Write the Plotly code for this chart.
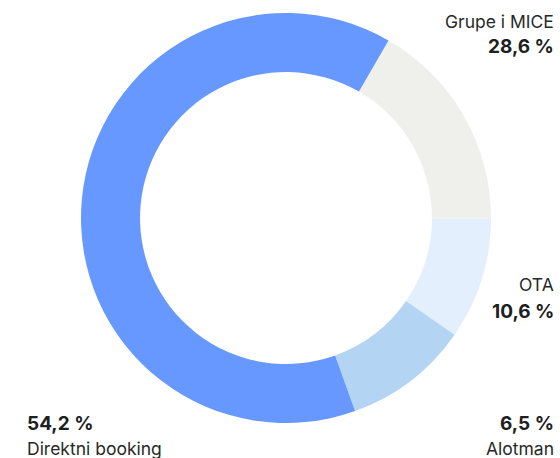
import plotly.graph_objects as go

# Data
categories = ["Grupe i MICE", "OTA", "Alotman", "Direktni booking"]
slice_values = [16.7, 9.6, 9.9, 63.8]          # visual slice sizes read from the ring
label_values = ["28,6 %", "10,6 %", "6,5 %", "54,2 %"]  # printed labels
colors = ["#EFEFEB", "#E3EFFC", "#B3D5F3", "#6698FF"]

W, H = 560, 458

fig = go.Figure(go.Pie(
    labels=categories,
    values=slice_values,
    hole=0.712,
    sort=False,
    direction="clockwise",
    rotation=30,
    marker=dict(colors=colors, line=dict(width=0)),
    textinfo="none",
    hoverinfo="label+value",
    domain=dict(x=[81 / W, 491 / W], y=[(H - 423) / H, (H - 13) / H]),
    showlegend=False,
))

def py(ypix):
    return 1 - ypix / H

txt = "#1C201E"
name_font = dict(family="Inter, Roboto, sans-serif", size=17.5, color="#262A28")
val_font = dict(family="Inter, Roboto, sans-serif", size=19, color=txt)

# (name y, value y, x, anchor) in pixels
placements = [
    (21, 46, 556, "right"),
    (284, 311, 556, "right"),
    (448, 423, 556, "right"),
    (448, 423, 25, "left"),
]
annotations = []
for cat, val, (ny, vy, x, anc) in zip(categories, label_values, placements):
    annotations.append(dict(text=cat, x=x / W, y=py(ny), xref="paper", yref="paper",
                            xanchor=anc, yanchor="middle", showarrow=False, font=name_font))
    annotations.append(dict(text="<b>" + val + "</b>", x=x / W, y=py(vy), xref="paper", yref="paper",
                            xanchor=anc, yanchor="middle", showarrow=False, font=val_font))

fig.update_layout(
    width=W, height=H,
    margin=dict(l=0, r=0, t=0, b=0),
    paper_bgcolor="white",
    plot_bgcolor="white",
    annotations=annotations,
)

fig.write_html("out.html", config={"displayModeBar": False},
               post_script="document.body.style.margin='0';document.body.style.overflow='hidden';")
